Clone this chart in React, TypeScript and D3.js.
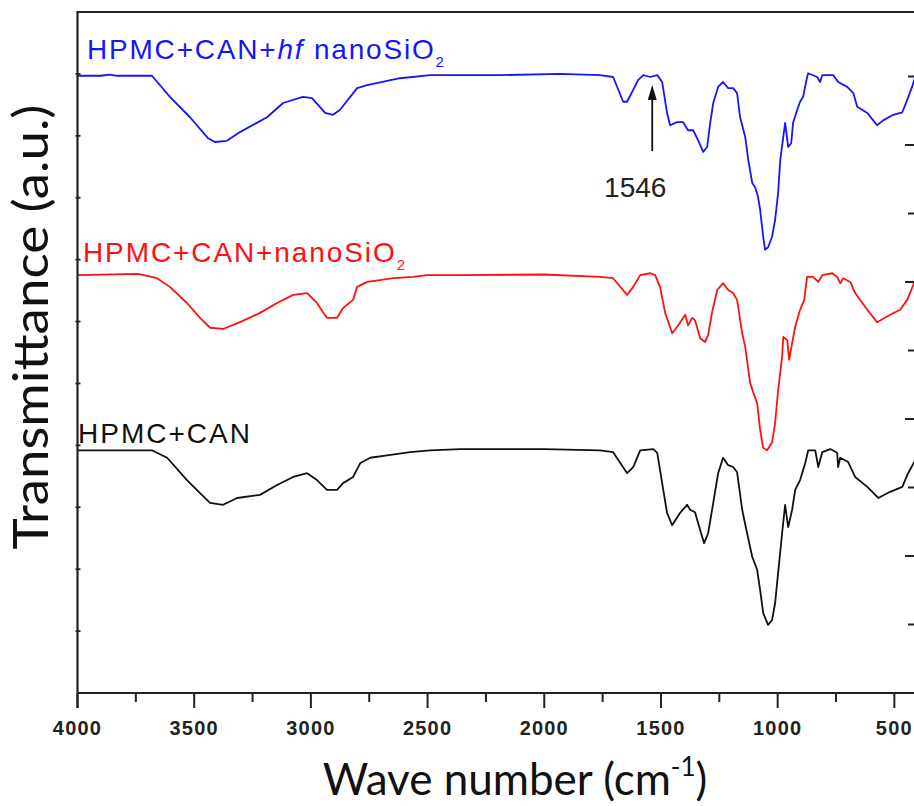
import React from "react";
import * as d3 from "d3";

// Wavenumber (cm-1), transmittance (a.u.)
const blueSeries: [number, number][] = [
  [4000, 9.97], [3900, 9.97], [3861, 9.99], [3830, 9.97], [3681, 9.97], [3604, 9.63], [3518, 9.3],
  [3440, 8.96], [3411, 8.9], [3360, 8.92], [3304, 9.06], [3188, 9.3], [3119, 9.53], [3034, 9.63], [2995, 9.61], [2939, 9.37],
  [2905, 9.34], [2875, 9.42], [2802, 9.77], [2759, 9.82], [2618, 9.93], [2489, 9.98], [2361, 9.98],
  [2189, 9.98], [1932, 10.0], [1761, 9.98], [1705, 9.95], [1662, 9.55], [1645, 9.55], [1598, 9.9],
  [1576, 9.98], [1546, 9.95], [1516, 9.98], [1495, 9.87], [1474, 9.37], [1461, 9.17], [1431, 9.22],
  [1405, 9.22], [1384, 9.09], [1362, 9.09], [1341, 8.93], [1319, 8.74], [1302, 8.82], [1289, 9.21],
  [1276, 9.53], [1255, 9.79], [1234, 9.87], [1212, 9.77], [1191, 9.77], [1174, 9.69], [1161, 9.3],
  [1139, 8.98], [1126, 8.61], [1109, 8.24], [1096, 8.16], [1084, 8.01], [1075, 7.8], [1062, 7.37],
  [1054, 7.16], [1041, 7.2], [1024, 7.37], [1011, 7.64], [998, 8.08], [989, 8.61], [976, 8.98],
  [968, 9.21], [955, 8.82], [942, 8.88], [934, 9.21], [916, 9.42], [904, 9.55], [891, 9.63],
  [874, 9.95], [869, 10.01], [831, 9.95], [818, 9.87], [809, 9.98], [762, 9.98], [741, 9.87],
  [702, 9.79], [676, 9.69], [659, 9.47], [616, 9.37], [574, 9.17], [548, 9.25], [505, 9.34],
  [466, 9.38], [445, 9.58], [424, 9.79], [415, 9.9], [400, 10.1],
];

const redSeries: [number, number][] = [
  [4000, 6.75], [3741, 6.77], [3659, 6.7], [3604, 6.56], [3531, 6.3], [3475, 6.06], [3432, 5.9],
  [3376, 5.88], [3304, 5.99], [3218, 6.14], [3145, 6.3], [3076, 6.43], [3016, 6.46], [2974, 6.3],
  [2948, 6.15], [2931, 6.06], [2888, 6.06], [2862, 6.22], [2819, 6.35], [2802, 6.56], [2759, 6.64],
  [2704, 6.67], [2648, 6.7], [2562, 6.72], [2502, 6.75], [2361, 6.75], [2000, 6.76], [1761, 6.72],
  [1705, 6.7], [1645, 6.43], [1619, 6.56], [1589, 6.75], [1546, 6.78], [1525, 6.75], [1504, 6.56],
  [1482, 6.14], [1452, 5.81], [1426, 5.94], [1396, 6.11], [1384, 5.94], [1366, 6.06], [1354, 6.02],
  [1332, 5.73], [1311, 5.67], [1298, 5.78], [1281, 6.15], [1259, 6.51], [1234, 6.62], [1212, 6.51],
  [1191, 6.46], [1174, 6.35], [1152, 5.81], [1139, 5.59], [1118, 5.01], [1105, 4.86], [1088, 4.68],
  [1075, 4.25], [1062, 3.96], [1045, 3.92], [1024, 4.05], [1011, 4.36], [998, 4.89], [981, 5.43],
  [976, 5.75], [959, 5.7], [951, 5.38], [938, 5.65], [925, 5.91], [904, 6.19], [886, 6.35],
  [874, 6.72], [848, 6.72], [826, 6.64], [809, 6.75], [766, 6.78], [745, 6.72], [732, 6.62],
  [719, 6.7], [689, 6.64], [668, 6.46], [616, 6.19], [574, 5.99], [518, 6.11], [475, 6.19],
  [445, 6.35], [419, 6.59], [400, 6.8],
];

const blackSeries: [number, number][] = [
  [4000, 3.92], [3681, 3.92], [3616, 3.8], [3531, 3.44], [3475, 3.23], [3432, 3.07], [3376, 3.04],
  [3316, 3.15], [3218, 3.2], [3145, 3.36], [3076, 3.49], [3016, 3.55], [2974, 3.44], [2931, 3.28],
  [2888, 3.28], [2862, 3.39], [2819, 3.49], [2789, 3.71], [2746, 3.8], [2674, 3.84], [2575, 3.89],
  [2489, 3.92], [2361, 3.94], [2000, 3.94], [1761, 3.92], [1705, 3.89], [1645, 3.55], [1619, 3.65],
  [1589, 3.92], [1533, 3.94], [1516, 3.88], [1495, 3.39], [1474, 2.91], [1452, 2.71], [1418, 2.91],
  [1388, 3.04], [1375, 2.96], [1354, 2.92], [1332, 2.63], [1315, 2.42], [1298, 2.58], [1276, 3.07],
  [1255, 3.55], [1234, 3.8], [1212, 3.68], [1191, 3.65], [1174, 3.57], [1152, 2.96], [1131, 2.58],
  [1109, 2.2], [1088, 1.99], [1075, 1.66], [1062, 1.29], [1041, 1.1], [1024, 1.18], [1011, 1.45],
  [998, 1.94], [981, 2.58], [968, 3.04], [955, 2.68], [938, 2.96], [925, 3.28], [904, 3.44],
  [882, 3.71], [869, 3.92], [839, 3.92], [826, 3.65], [809, 3.89], [775, 3.94], [745, 3.88],
  [741, 3.65], [732, 3.8], [698, 3.73], [668, 3.49], [616, 3.33], [569, 3.15], [518, 3.25],
  [466, 3.33], [441, 3.55], [415, 3.73], [400, 3.85],
];

const xMajorTicks = [4000, 3500, 3000, 2500, 2000, 1500, 1000, 500];
const xMinorTicks = [3750, 3250, 2750, 2250, 1750, 1250, 750];
const leftTicks = [1, 2, 3, 4, 5, 6, 7, 8, 9, 10];
const rightTicks = [1, 2, 3, 4, 5, 6, 7, 8, 9];
const annotationValue = 1546;

export default function App() {
  const W = 914, H = 806;
  const x = d3.scaleLinear().domain([4000, 400]).range([77.5, 917.7]);
  const y = d3.scaleLinear().domain([0, 11]).range([693, 12]);
  const yR = d3.scaleLinear().domain([0, 10]).range([693, 8]);
  const line = d3.line<[number, number]>().x((d) => x(d[0])).y((d) => y(d[1]));
  const axisColor = "#222";
  const labelFont = "'Liberation Sans', Arial, sans-serif";
  const titleFont = "Lato, 'Open Sans', sans-serif";
  const x0 = x(4000);
  const yBottom = y(0);
  const annX = x(annotationValue) + 2;

  return (
    <svg width={W} height={H} style={{ position: "absolute", left: 0, top: 0, background: "#fff" }}>
      <rect width={W} height={H} fill="#fff" />
      {/* curves */}
      <path d={line(blueSeries) || ""} fill="none" stroke="#1515ff" strokeWidth={1.8} strokeLinejoin="round" />
      <path d={line(redSeries) || ""} fill="none" stroke="#ff1010" strokeWidth={1.8} strokeLinejoin="round" />
      <path d={line(blackSeries) || ""} fill="none" stroke="#111" strokeWidth={1.8} strokeLinejoin="round" />

      {/* frame */}
      <line x1={x0} x2={W} y1={12} y2={12} stroke={axisColor} strokeWidth={2.2} />
      <line x1={x0} x2={x0} y1={11} y2={yBottom + 15} stroke={axisColor} strokeWidth={2.2} />
      <line x1={x0} x2={W} y1={yBottom} y2={yBottom} stroke={axisColor} strokeWidth={2.2} />

      {/* bottom ticks */}
      {xMajorTicks.map((t) => (
        <g key={"M" + t}>
          <line x1={x(t)} x2={x(t)} y1={yBottom} y2={yBottom + 15} stroke={axisColor} strokeWidth={2} />
          <text x={x(t)} y={735} textAnchor="middle" fontFamily={labelFont} fontWeight="bold" fontSize={20}
            letterSpacing={1.2} fill="#222">{t}</text>
        </g>
      ))}
      {xMinorTicks.map((t) => (
        <line key={"m" + t} x1={x(t)} x2={x(t)} y1={yBottom} y2={yBottom + 9} stroke={axisColor} strokeWidth={2} />
      ))}

      {/* left ticks */}
      {leftTicks.map((t) => (
        <line key={"l" + t} x1={x0 - 2} x2={x0 + 3} y1={y(t)} y2={y(t)} stroke={axisColor} strokeWidth={1.8} />
      ))}
      {/* right ticks (axis beyond the visible edge) */}
      {rightTicks.map((t) => (
        <line key={"r" + t} x1={t % 2 === 0 ? 905 : 908} x2={W} y1={yR(t)} y2={yR(t)} stroke={axisColor} strokeWidth={2} />
      ))}

      {/* series labels */}
      <text x={87} y={59} fontFamily={labelFont} fontSize={28} letterSpacing={1.8} fill="#1515ff">
        <tspan>HPMC+CAN+</tspan>
        <tspan fontStyle="italic">hf</tspan>
        <tspan> nanoSiO</tspan>
        <tspan fontSize={15} dy={8}>2</tspan>
      </text>
      <text x={83} y={262} fontFamily={labelFont} fontSize={28} letterSpacing={1.9} fill="#ff1010">
        <tspan>HPMC+CAN+nanoSiO</tspan>
        <tspan fontSize={15} dy={8}>2</tspan>
      </text>
      <text x={78} y={443} fontFamily={labelFont} fontSize={28} letterSpacing={2} fill="#111">
        HPMC+CAN
      </text>

      {/* annotation */}
      <line x1={annX} x2={annX} y1={151} y2={98} stroke="#111" strokeWidth={1.8} />
      <path d={`M${annX},85 L${annX - 4.5},100 L${annX + 4.5},100 Z`} fill="#111" />
      <text x={annX - 17} y={197} textAnchor="middle" fontFamily={labelFont} fontSize={28} fill="#222">
        {annotationValue}
      </text>

      {/* axis titles */}
      <text x={515} y={795} textAnchor="middle" fontFamily={titleFont} fontSize={44} fill="#111">
        <tspan>Wave number (cm</tspan>
        <tspan fontSize={26} dy={-19}>-1</tspan>
        <tspan dy={19}>)</tspan>
      </text>
      <text transform="translate(48,327) rotate(-90)" textAnchor="middle" fontFamily={titleFont} fontSize={48}
        textLength={445} lengthAdjust="spacingAndGlyphs" fill="#111">
        Transmittance (a.u.)
      </text>
    </svg>
  );
}
